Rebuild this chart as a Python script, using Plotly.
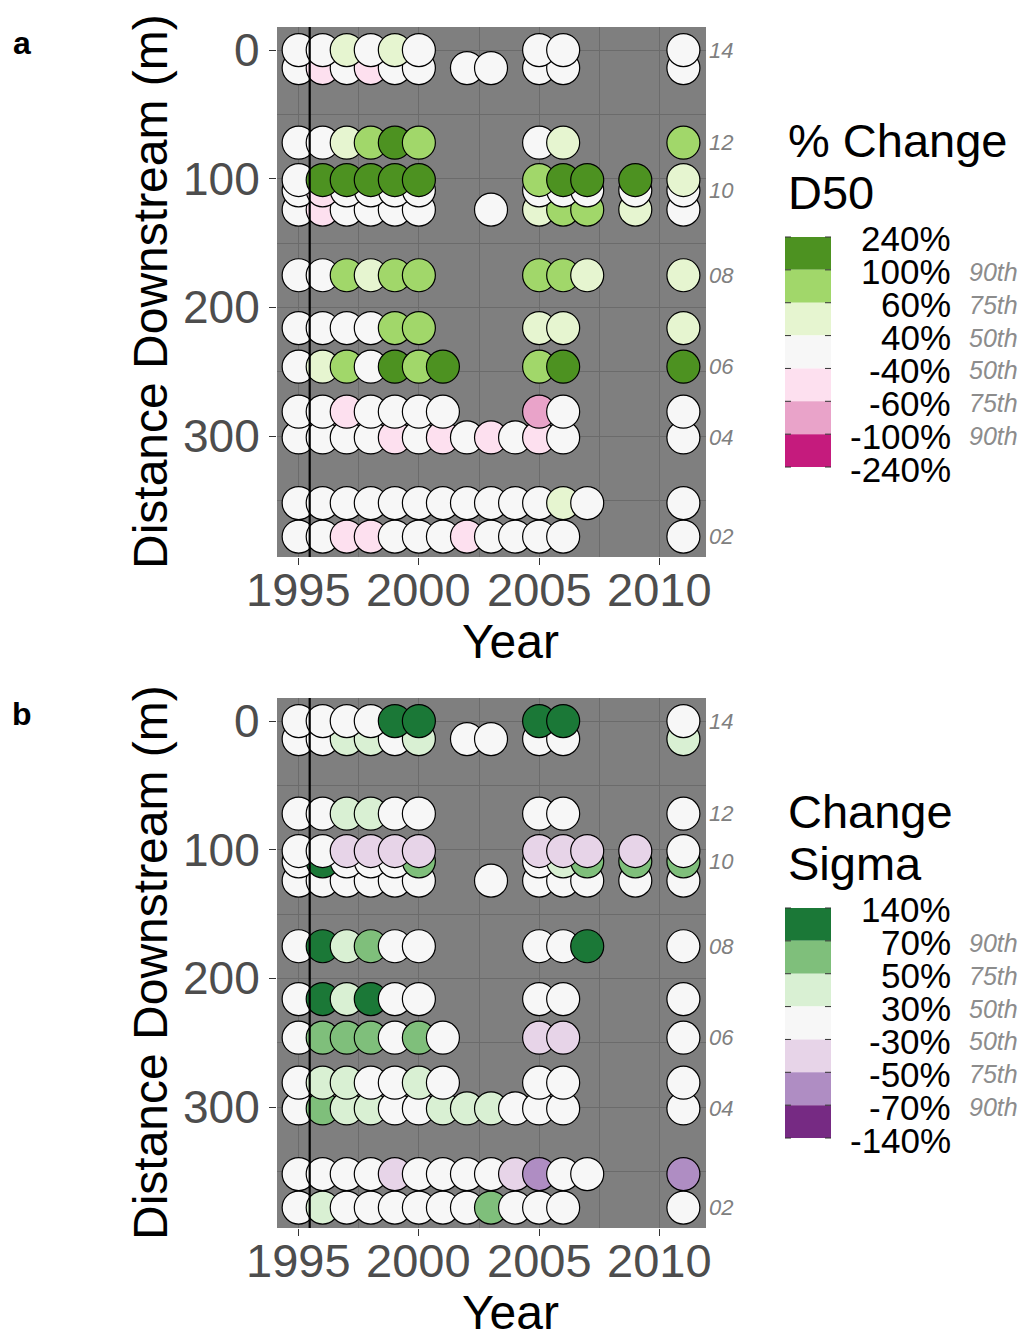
import plotly.graph_objects as go

W, H = 1020, 1336
FONT = "Liberation Sans, Arial, sans-serif"

# ---------------- data ----------------
stations = ["14", "13", "12", "11", "10", "09", "08", "07", "06", "05", "04", "03", "02"]
distance_m = [0, 14, 72, 101, 109, 124, 175, 216, 246, 281, 301, 352, 378]
labelled_stations = ["14", "12", "10", "08", "06", "04", "02"]

row_years = {
    "14": [1995, 1996, 1997, 1998, 1999, 2000, 2005, 2006, 2011],
    "13": [1995, 1996, 1997, 1998, 1999, 2000, 2002, 2003, 2005, 2006, 2011],
    "12": [1995, 1996, 1997, 1998, 1999, 2000, 2005, 2006, 2011],
    "11": [1995, 1996, 1997, 1998, 1999, 2000, 2005, 2006, 2007, 2009, 2011],
    "10": [1995, 1996, 1997, 1998, 1999, 2000, 2005, 2006, 2007, 2009, 2011],
    "09": [1995, 1996, 1997, 1998, 1999, 2000, 2003, 2005, 2006, 2007, 2009, 2011],
    "08": [1995, 1996, 1997, 1998, 1999, 2000, 2005, 2006, 2007, 2011],
    "07": [1995, 1996, 1997, 1998, 1999, 2000, 2005, 2006, 2011],
    "06": [1995, 1996, 1997, 1998, 1999, 2000, 2001, 2005, 2006, 2011],
    "05": [1995, 1996, 1997, 1998, 1999, 2000, 2001, 2005, 2006, 2011],
    "04": [1995, 1996, 1997, 1998, 1999, 2000, 2001, 2002, 2003, 2004, 2005, 2006, 2011],
    "03": [1995, 1996, 1997, 1998, 1999, 2000, 2001, 2002, 2003, 2004, 2005, 2006, 2007, 2011],
    "02": [1995, 1996, 1997, 1998, 1999, 2000, 2001, 2002, 2003, 2004, 2005, 2006, 2011],
}

# class codes: 3 = >90th pct gain ... 0 = within 50th ... -3 = >90th pct loss
d50_class = {
    "14": [0, 0, 1, 0, 1, 0, 0, 0, 0],
    "13": [0, -1, 0, -1, 0, 0, 0, 0, 0, 0, 0],
    "12": [0, 0, 1, 2, 3, 2, 0, 1, 2],
    "11": [0, 3, 3, 3, 3, 3, 2, 3, 3, 3, 1],
    "10": [0, -1, 0, 0, 0, 0, 0, 0, 0, 0, 0],
    "09": [0, -1, 0, 0, 0, 0, 0, 1, 2, 2, 1, 0],
    "08": [0, 0, 2, 1, 2, 2, 2, 2, 1, 1],
    "07": [0, 0, 0, 0, 2, 2, 1, 1, 1],
    "06": [0, 1, 2, 0, 3, 2, 3, 2, 3, 3],
    "05": [0, 0, -1, 0, 0, 0, 0, -2, 0, 0],
    "04": [0, 0, 0, 0, -1, 0, -1, 0, -1, 0, -1, 0, 0],
    "03": [0, 0, 0, 0, 0, 0, 0, 0, 0, 0, 0, 1, 0, 0],
    "02": [0, 0, -1, -1, 0, 0, 0, -1, 0, 0, 0, 0, 0],
}

sigma_class = {
    "14": [0, 0, 0, 0, 3, 3, 3, 3, 0],
    "13": [0, 0, 1, 1, 0, 1, 0, 0, 0, 0, 1],
    "12": [0, 0, 1, 1, 0, 0, 0, 0, 0],
    "11": [0, 0, -1, -1, -1, -1, -1, -1, -1, -1, 0],
    "10": [0, 3, 0, 0, 0, 2, 0, 1, 2, 2, 2],
    "09": [0, 0, 0, 0, 0, 0, 0, 0, 0, 0, 0, 0],
    "08": [0, 3, 1, 2, 0, 0, 0, 0, 3, 0],
    "07": [0, 3, 1, 3, 0, 0, 0, 0, 0],
    "06": [0, 2, 2, 2, 0, 2, 0, -1, -1, 0],
    "05": [0, 1, 1, 0, 0, 1, 0, 0, 0, 0],
    "04": [0, 2, 1, 1, 0, 0, 1, 1, 1, 0, 0, 0, 0],
    "03": [0, 0, 0, 0, -1, 0, 0, 0, 0, -1, -2, 0, 0, -2],
    "02": [0, 1, 0, 0, 0, 0, 0, 0, 2, 0, 0, 0, 0],
}

class_codes = [3, 2, 1, 0, -1, -2, -3]
d50_palette = ["#4D9221", "#A1D76A", "#E6F5D0", "#F7F7F7", "#FDE0EF", "#E9A3C9", "#C51B7D"]
sigma_palette = ["#1B7837", "#7FBF7B", "#D9F0D3", "#F7F7F7", "#E7D4E8", "#AF8DC3", "#762A83"]

d50_breaks = ["240%", "100%", "60%", "40%", "-40%", "-60%", "-100%", "-240%"]
sigma_breaks = ["140%", "70%", "50%", "30%", "-30%", "-50%", "-70%", "-140%"]
pct_labels = ["90th", "75th", "50th", "50th", "75th", "90th"]

x_ticks = [1995, 2000, 2005, 2010]
x_minor = [1997.5, 2002.5, 2007.5]
y_ticks = [0, 100, 200, 300]
y_minor = [50, 150, 250, 350]
event_year = 1995.46

# ---------------- layout geometry (pixels) ----------------
X_L, X_R = 277, 706
PANEL_TOP = [27, 698]
PANEL_BOT = [557, 1228]
OFF = [0, 671]


def fx(x):
    return x / W


def fy(y):
    return 1 - y / H


fig = go.Figure()

panels = [
    dict(cls=d50_class, pal=d50_palette, title=["% Change", "D50"], breaks=d50_breaks, tag="a"),
    dict(cls=sigma_class, pal=sigma_palette, title=["Change", "Sigma"], breaks=sigma_breaks, tag="b"),
]

annotations = []
shapes = []

for i, p in enumerate(panels):
    xa = "x" if i == 0 else "x2"
    ya = "y" if i == 0 else "y2"
    off = OFF[i]
    cmap = dict(zip(class_codes, p["pal"]))
    xs, ys, cs, txt = [], [], [], []
    # draw deepest rows first, earlier years first
    order = sorted(range(len(stations)), key=lambda k: -distance_m[k])
    for k in order:
        st = stations[k]
        for yr, c in zip(row_years[st], p["cls"][st]):
            xs.append(yr)
            ys.append(distance_m[k])
            cs.append(cmap[c])
            txt.append(f"Station {st}")
    fig.add_trace(go.Scatter(
        x=xs, y=ys, mode="markers", text=txt, xaxis=xa, yaxis=ya, showlegend=False,
        marker=dict(size=33, color=cs, line=dict(color="black", width=1.2), opacity=1),
        hovertemplate="%{text}<br>Year %{x}<br>%{y} m<extra></extra>",
    ))

    # event line
    shapes.append(dict(type="line", xref=xa, yref=f"{ya} domain", x0=event_year, x1=event_year,
                       y0=0, y1=1, line=dict(color="black", width=2.2), layer="above"))

    # tick labels
    for t in x_ticks:
        annotations.append(dict(xref=xa, yref="paper", x=t, y=fy(589 + off), text=str(t),
                                showarrow=False, xanchor="center", yanchor="middle",
                                font=dict(family=FONT, size=47, color="#4D4D4D")))
    for t in y_ticks:
        annotations.append(dict(xref="paper", yref=ya, x=fx(262), y=t, text=str(t),
                                showarrow=False, xanchor="right", yanchor="middle",
                                font=dict(family=FONT, size=46, color="#4D4D4D")))

    # station labels at right
    for st in labelled_stations:
        d = distance_m[stations.index(st)]
        annotations.append(dict(xref="paper", yref=ya, x=fx(707), y=d, text=f"<i>{st}</i>",
                                showarrow=False, xanchor="left", yanchor="middle",
                                font=dict(family=FONT, size=22, color="#808080")))
    # axis titles
    annotations.append(dict(xref="paper", yref="paper", x=fx(510), y=fy(641 + off), text="Year",
                            showarrow=False, xanchor="center", yanchor="middle",
                            font=dict(family=FONT, size=48, color="black")))
    annotations.append(dict(xref="paper", yref="paper", x=fx(150), y=fy(292 + off),
                            text="Distance Downstream (m)", textangle=-90,
                            showarrow=False, xanchor="center", yanchor="middle",
                            font=dict(family=FONT, size=48, color="black")))
    # panel tag
    annotations.append(dict(xref="paper", yref="paper", x=fx(22), y=fy(43 + off), text=f"<b>{p['tag']}</b>",
                            showarrow=False, xanchor="center", yanchor="middle",
                            font=dict(family=FONT, size=32, color="black")))
    # legend title
    for j, line in enumerate(p["title"]):
        annotations.append(dict(xref="paper", yref="paper", x=fx(786), y=fy(140 + 52 * j + off), text=line,
                                showarrow=False, xanchor="left", yanchor="middle",
                                font=dict(family=FONT, size=47, color="black")))
    # legend colour steps
    top = 237 + off
    step = 32.86
    for j, col in enumerate(p["pal"]):
        shapes.append(dict(type="rect", xref="paper", yref="paper",
                           x0=fx(785), x1=fx(831), y0=fy(top + j * step), y1=fy(top + (j + 1) * step),
                           fillcolor=col, line=dict(width=0), layer="above"))
    for j in range(len(p["pal"]) + 1):
        yy = fy(top + j * step)
        for (a, b) in [(785, 791), (825, 831)]:
            shapes.append(dict(type="line", xref="paper", yref="paper", x0=fx(a), x1=fx(b), y0=yy, y1=yy,
                               line=dict(color="#333333", width=1), layer="above"))
    for j, lab in enumerate(p["breaks"]):
        annotations.append(dict(xref="paper", yref="paper", x=fx(953), y=fy(top + j * step + 2), text=lab,
                                showarrow=False, xanchor="right", yanchor="middle",
                                font=dict(family=FONT, size=35, color="black")))
    for j, lab in enumerate(pct_labels):
        annotations.append(dict(xref="paper", yref="paper", x=fx(967), y=fy(top + (j + 1) * step + 2),
                                text=f"<i>{lab}</i>",
                                showarrow=False, xanchor="left", yanchor="middle",
                                font=dict(family=FONT, size=25, color="#8C8C8C")))


def xaxis_cfg(anchor):
    return dict(domain=[fx(X_L), fx(X_R)], range=[1994.10, 2011.94], anchor=anchor, automargin=False,
                tickmode="array", tickvals=x_ticks, ticks="outside", ticklen=7, tickwidth=1,
                tickcolor="#333333", showticklabels=False,
                showgrid=True, gridcolor="#6B6B6B", gridwidth=1, zeroline=False, showline=False,
                minor=dict(tickmode="array", tickvals=x_minor, showgrid=True, gridcolor="#6B6B6B",
                           gridwidth=0.6, ticks=""))


def yaxis_cfg(anchor, i):
    return dict(domain=[fy(PANEL_BOT[i]), fy(PANEL_TOP[i])], range=[393.9, -17.9], anchor=anchor,
                automargin=False,
                tickmode="array", tickvals=y_ticks, ticks="outside", ticklen=7, tickwidth=1,
                tickcolor="#333333", showticklabels=False,
                showgrid=True, gridcolor="#6B6B6B", gridwidth=1, zeroline=False, showline=False,
                minor=dict(tickmode="array", tickvals=y_minor, showgrid=True, gridcolor="#6B6B6B",
                           gridwidth=0.6, ticks=""))


fig.update_layout(
    width=W, height=H, margin=dict(l=0, r=0, t=0, b=0, autoexpand=False),
    paper_bgcolor="white", plot_bgcolor="#7F7F7F",
    font=dict(family=FONT),
    xaxis=xaxis_cfg("y"), yaxis=yaxis_cfg("x", 0),
    xaxis2=xaxis_cfg("y2"), yaxis2=yaxis_cfg("x2", 1),
    annotations=annotations, shapes=shapes, showlegend=False,
)

fig.write_html("out.html")
